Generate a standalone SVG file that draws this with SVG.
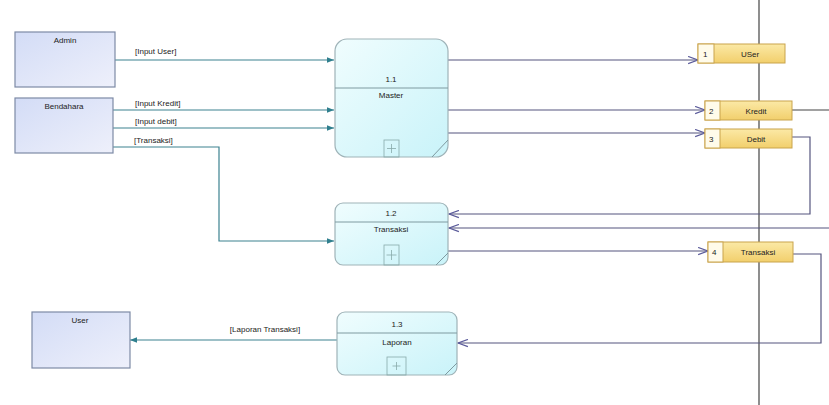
<svg xmlns="http://www.w3.org/2000/svg" width="829" height="405" viewBox="0 0 829 405">
  <style>
    text { font-family: "Liberation Sans", Arial, sans-serif; font-size: 8px; fill: #222; }
    .mid { text-anchor: middle; }
    .ent { fill: url(#entFill); stroke: #7d8aa6; stroke-width: 1.2; }
    .proc { fill: url(#procFill); stroke: #9fb3b8; stroke-width: 1.2; }
    .div { stroke: #7f9aa0; stroke-width: 1; }
    .plus { fill: none; stroke: #8aa; stroke-width: 0.8; }
    .store { fill: url(#storeFill); stroke: #c9a44c; stroke-width: 1; }
    .cell { fill: #fffbea; stroke: #c9a44c; stroke-width: 1; }
    .flow { fill: none; stroke: #3c8290; stroke-width: 1.2; }
    .sflow { fill: none; stroke: #55557f; stroke-width: 1.2; }
    .line { fill: none; stroke: #444; stroke-width: 1.2; }
  </style>
  <defs>
    <linearGradient id="entFill" x1="0" y1="0" x2="1" y2="1">
      <stop offset="0" stop-color="#d3dcf6"/>
      <stop offset="1" stop-color="#eef0fb"/>
    </linearGradient>
    <linearGradient id="procFill" x1="0" y1="0" x2="1" y2="1">
      <stop offset="0" stop-color="#f0fdfe"/>
      <stop offset="1" stop-color="#c9f3f9"/>
    </linearGradient>
    <linearGradient id="storeFill" x1="0" y1="0" x2="0" y2="1">
      <stop offset="0" stop-color="#fbe9a6"/>
      <stop offset="1" stop-color="#f2cf6c"/>
    </linearGradient>
    <marker id="solid" viewBox="0 0 10 10" refX="10" refY="5" markerWidth="10" markerHeight="7" markerUnits="userSpaceOnUse" orient="auto">
      <path d="M0,1 L10,5 L0,9 Z" fill="#2f7f8e"/>
    </marker>
    <marker id="open" viewBox="0 0 12 10" refX="11" refY="5" markerWidth="12" markerHeight="9" markerUnits="userSpaceOnUse" orient="auto">
      <path d="M0,1 L11,5 L0,9" fill="none" stroke="#5a5a9a" stroke-width="1.3"/>
    </marker>
  </defs>

  <rect width="829" height="405" fill="#ffffff"/>

  <!-- flows -->
  <g id="connectors">
    <line class="line" x1="759" y1="0" x2="759" y2="405"/>
    <path class="flow" d="M115,60 H334" marker-end="url(#solid)"/>
    <path class="flow" d="M113,110 H334" marker-end="url(#solid)"/>
    <path class="flow" d="M113,128 H334" marker-end="url(#solid)"/>
    <path class="flow" d="M113,147 H219 V241 H334" marker-end="url(#solid)"/>
    <path class="flow" d="M337,340 H130" marker-end="url(#solid)"/>
    <path class="sflow" d="M448,60 H698" marker-end="url(#open)"/>
    <path class="sflow" d="M448,110 H705" marker-end="url(#open)"/>
    <path class="sflow" d="M448,133 H705" marker-end="url(#open)"/>
    <path class="sflow" d="M448,251 H708" marker-end="url(#open)"/>
    <path class="line" d="M792,110 H829"/>
    <path class="sflow" d="M792,137 H810 V214 H449" marker-end="url(#open)"/>
    <path class="sflow" d="M829,228 H449" marker-end="url(#open)"/>
    <path class="sflow" d="M793,254 H821 V343 H458" marker-end="url(#open)"/>
    <text x="135" y="54">[Input User]</text>
    <text x="135" y="106">[Input Kredit]</text>
    <text x="135" y="124">[Input debit]</text>
    <text x="134" y="143">[Transaksi]</text>
    <text x="265" y="332" class="mid">[Laporan Transaksi]</text>
  </g>

  <!-- external entities -->
  <g id="admin">
    <rect class="ent" x="15" y="32" width="100" height="55"/>
    <text x="65" y="43" class="mid">Admin</text>
  </g>
  <g id="bendahara">
    <rect class="ent" x="15" y="98" width="98" height="55"/>
    <text x="64" y="109" class="mid">Bendahara</text>
  </g>
  <g id="user">
    <rect class="ent" x="32" y="312" width="98" height="56"/>
    <text x="80" y="323" class="mid">User</text>
  </g>

  <!-- processes -->
  <g id="p11">
    <rect class="proc" x="335" y="39" width="113" height="118" rx="12"/>
    <line class="div" x1="335" y1="88" x2="448" y2="88"/>
    <text x="391" y="82" class="mid">1.1</text>
    <text x="391" y="98" class="mid">Master</text>
    <rect class="plus" x="384" y="140" width="15" height="17"/>
    <path class="plus" d="M391.5,144 V153 M387,148.5 H396"/>
    <line class="div" x1="448" y1="140" x2="432" y2="157"/>
  </g>
  <g id="p12">
    <rect class="proc" x="335" y="203" width="113" height="62" rx="8"/>
    <line class="div" x1="335" y1="222" x2="448" y2="222"/>
    <text x="391" y="216" class="mid">1.2</text>
    <text x="391" y="232" class="mid">Transaksi</text>
    <rect class="plus" x="384" y="245" width="15" height="20"/>
    <path class="plus" d="M391.5,250 V260 M386.5,255 H396.5"/>
    <line class="div" x1="448" y1="253" x2="436" y2="265"/>
  </g>
  <g id="p13">
    <rect class="proc" x="337" y="312" width="120" height="63" rx="8"/>
    <line class="div" x1="337" y1="333" x2="457" y2="333"/>
    <text x="397" y="327" class="mid">1.3</text>
    <text x="397" y="345" class="mid">Laporan</text>
    <rect class="plus" x="387" y="357" width="19" height="18"/>
    <path class="plus" d="M396.5,362 V370 M392.5,366 H400.5"/>
    <line class="div" x1="457" y1="363" x2="445" y2="375"/>
  </g>

  <!-- data stores -->
  <g id="ds1">
    <rect class="store" x="698" y="44" width="87" height="19"/>
    <rect class="cell" x="698" y="44" width="16" height="19"/>
    <text x="703" y="57">1</text>
    <text x="750" y="57" class="mid">USer</text>
  </g>
  <g id="ds2">
    <rect class="store" x="705" y="101" width="87" height="19"/>
    <rect class="cell" x="705" y="101" width="15" height="19"/>
    <text x="709" y="114">2</text>
    <text x="756" y="114" class="mid">Kredit</text>
  </g>
  <g id="ds3">
    <rect class="store" x="705" y="129" width="87" height="19"/>
    <rect class="cell" x="705" y="129" width="15" height="19"/>
    <text x="709" y="142">3</text>
    <text x="756" y="142" class="mid">Debit</text>
  </g>
  <g id="ds4">
    <rect class="store" x="708" y="242" width="85" height="20"/>
    <rect class="cell" x="708" y="242" width="15" height="20"/>
    <text x="712" y="255">4</text>
    <text x="758" y="255" class="mid">Transaksi</text>
  </g>
</svg>
